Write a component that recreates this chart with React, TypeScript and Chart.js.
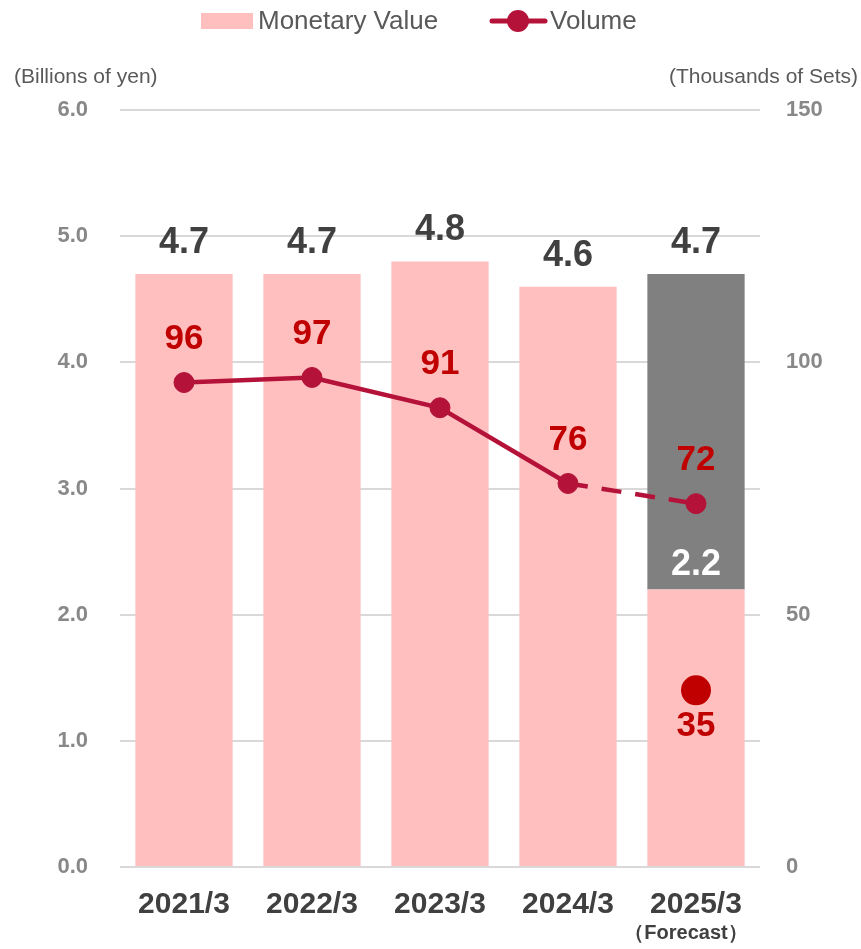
import React, { useEffect, useRef } from "react";
import { Chart, registerables } from "chart.js";

Chart.register(...registerables);

const categories = ["2021/3", "2022/3", "2023/3", "2024/3", "2025/3"];
const forecastNote = "（Forecast）";
const monetaryTotal = [4.7, 4.7, 4.8, 4.6, 4.7];
const monetaryBase = [4.7, 4.7, 4.8, 4.6, 2.2];
const monetaryForecastRest = [null, null, null, null, 2.5];
const firstHalfValue = 2.2;
const volume = [96, 97, 91, 76, 72];
const firstHalfVolume = [null, null, null, null, 35];
const leftTicks = [0, 1, 2, 3, 4, 5, 6];
const rightTicks = [0, 50, 100, 150];

const FONT = "'Liberation Sans', Arial, sans-serif";
const PINK = "#FFBFBF";
const GRAY = "#808080";
const LINE = "#B5123A";
const RED = "#C00000";

export default function App() {
  const ref = useRef<HTMLCanvasElement | null>(null);

  useEffect(() => {
    if (!ref.current) return;

    const overlay = {
      id: "overlay",
      afterDatasetsDraw(chart: any) {
        const ctx = chart.ctx;
        ctx.save();
        ctx.textAlign = "center";
        ctx.textBaseline = "middle";
        const barMeta = chart.getDatasetMeta(0);
        const restMeta = chart.getDatasetMeta(1);
        const lineMeta = chart.getDatasetMeta(2);
        const dotMeta = chart.getDatasetMeta(3);
        const yS = chart.scales.y;
        // total labels above bars
        ctx.font = `bold 36px ${FONT}`;
        ctx.fillStyle = "#404040";
        monetaryTotal.forEach((v, i) => {
          const x = barMeta.data[i].x;
          const y = yS.getPixelForValue(v);
          ctx.fillText(v.toFixed(1), x, y - 31);
        });
        // first half value inside gray bar
        const lastIdx = categories.length - 1;
        ctx.fillStyle = "#FFFFFF";
        ctx.fillText(firstHalfValue.toFixed(1), restMeta.data[lastIdx].x, yS.getPixelForValue(firstHalfValue) - 24);
        // volume labels
        ctx.font = `bold 35px ${FONT}`;
        ctx.fillStyle = RED;
        volume.forEach((v, i) => {
          const p = lineMeta.data[i];
          ctx.fillText(String(v), p.x, p.y - 43);
        });
        firstHalfVolume.forEach((v, i) => {
          if (v == null) return;
          const p = dotMeta.data[i];
          ctx.fillText(String(v), p.x, p.y + 36);
        });
        ctx.restore();
      },
      afterDraw(chart: any) {
        const ctx = chart.ctx;
        ctx.save();
        // legend
        ctx.fillStyle = PINK;
        ctx.fillRect(201, 13, 52, 16);
        ctx.font = `26px ${FONT}`;
        ctx.fillStyle = "#595959";
        ctx.textAlign = "left";
        ctx.textBaseline = "middle";
        ctx.fillText("Monetary Value", 258, 22);
        ctx.strokeStyle = LINE;
        ctx.lineWidth = 5;
        ctx.lineCap = "round";
        ctx.beginPath();
        ctx.moveTo(492, 21);
        ctx.lineTo(545, 21);
        ctx.stroke();
        ctx.fillStyle = LINE;
        ctx.beginPath();
        ctx.arc(518, 21, 11, 0, Math.PI * 2);
        ctx.fill();
        ctx.fillStyle = "#595959";
        ctx.fillText("Volume", 550, 22);
        // axis titles
        ctx.font = `21px ${FONT}`;
        ctx.textAlign = "left";
        ctx.fillText("(Billions of yen)", 14, 77);
        ctx.textAlign = "right";
        ctx.fillText("(Thousands of Sets)", 858, 77);
        // forecast note
        const xS = chart.scales.x;
        ctx.textAlign = "center";
        ctx.font = `bold 20px ${FONT}`;
        ctx.fillStyle = "#404040";
        ctx.fillText(forecastNote, xS.getPixelForValue(categories.length - 1) - 10, 933);
        ctx.restore();
      },
    };

    const chart = new Chart(ref.current, {
      type: "bar",
      data: {
        labels: categories,
        datasets: [
          {
            type: "bar",
            label: "Monetary Value",
            data: monetaryBase,
            backgroundColor: PINK,
            yAxisID: "y",
            stack: "m",
            order: 3,
            barPercentage: 0.76,
            categoryPercentage: 1,
          },
          {
            type: "bar",
            label: "Forecast",
            data: monetaryForecastRest as any,
            backgroundColor: GRAY,
            yAxisID: "y",
            stack: "m",
            order: 3,
            barPercentage: 0.76,
            categoryPercentage: 1,
          },
          {
            type: "line",
            label: "Volume",
            data: volume,
            yAxisID: "y2",
            borderColor: LINE,
            backgroundColor: LINE,
            borderWidth: 4.5,
            pointRadius: 10,
            pointBorderWidth: 1,
            pointBackgroundColor: LINE,
            pointBorderColor: LINE,
            order: 1,
            segment: {
              borderDash: (c: any) => (c.p1DataIndex === volume.length - 1 ? [20, 14] : undefined),
            },
          } as any,
          {
            type: "line",
            label: "H1",
            data: firstHalfVolume as any,
            yAxisID: "y2",
            showLine: false,
            pointRadius: 15,
            pointBorderWidth: 0,
            pointBackgroundColor: RED,
            pointBorderColor: RED,
            order: 0,
          },
        ],
      },
      options: {
        animation: false,
        responsive: true,
        maintainAspectRatio: false,
        layout: { padding: { top: 110, left: 0, right: 0, bottom: 0 } },
        plugins: {
          legend: { display: false },
          tooltip: { enabled: false },
        },
        scales: {
          x: {
            stacked: true,
            grid: { display: false, drawTicks: false },
            border: { display: false },
            ticks: {
              font: { family: FONT, size: 30, weight: "bold" },
              color: "#404040",
              padding: 20,
              maxRotation: 0,
            },
            afterFit: (s: any) => {
              s.height = 82;
            },
          },
          y: {
            position: "left",
            stacked: true,
            min: 0,
            max: 6,
            afterBuildTicks: (s: any) => {
              s.ticks = leftTicks.map((v) => ({ value: v }));
            },
            ticks: {
              font: { family: FONT, size: 22, weight: "bold" },
              color: "#888888",
              padding: 32,
              callback: (v: any) => Number(v).toFixed(1),
            },
            grid: { color: "#D9D9D9", lineWidth: 2, drawTicks: false },
            border: { display: false },
            afterFit: (s: any) => {
              s.width = 120;
            },
          },
          y2: {
            position: "right",
            min: 0,
            max: 150,
            afterBuildTicks: (s: any) => {
              s.ticks = rightTicks.map((v) => ({ value: v }));
            },
            ticks: {
              font: { family: FONT, size: 22, weight: "bold" },
              color: "#888888",
              padding: 26,
            },
            grid: { display: false, drawTicks: false },
            border: { display: false },
            afterFit: (s: any) => {
              s.width = 101;
            },
          },
        },
      },
      plugins: [overlay],
    });
    return () => chart.destroy();
  }, []);

  return (
    <div style={{ position: "absolute", left: 0, top: 0, width: 861, height: 949 }}>
      <canvas ref={ref} />
    </div>
  );
}
